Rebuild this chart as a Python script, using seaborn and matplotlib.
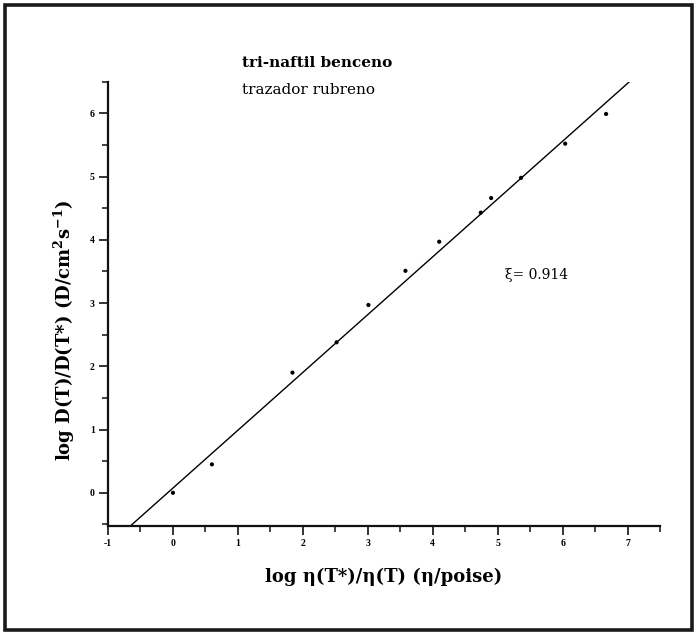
import numpy as np
import pandas as pd
import matplotlib
matplotlib.use("Agg")
import matplotlib.pyplot as plt
import seaborn as sns
from matplotlib.patches import Rectangle
from matplotlib.ticker import MultipleLocator, FixedLocator

# Measured points: log viscosity ratio vs log diffusion ratio
log_eta_ratio = [0.00, 0.60, 1.84, 2.52, 3.01, 3.58, 4.10, 4.74, 4.90, 5.36, 6.04, 6.67]
log_d_ratio = [0.00, 0.45, 1.90, 2.38, 2.97, 3.51, 3.97, 4.43, 4.66, 4.98, 5.52, 5.99]

# Fractional Stokes-Einstein exponent (slope of the fitted line) and intercept
xi = 0.914
intercept = 0.075

x_ticks = [-1, 0, 1, 2, 3, 4, 5, 6, 7]
y_ticks = [0, 1, 2, 3, 4, 5, 6]

sns.set_theme(style="ticks")
plt.rcParams["font.family"] = ["Liberation Serif", "DejaVu Serif"]
plt.rcParams["mathtext.fontset"] = "custom"
plt.rcParams["mathtext.rm"] = "DejaVu Serif"
plt.rcParams["mathtext.bf"] = "DejaVu Serif:bold"
plt.rcParams["axes.unicode_minus"] = False
plt.rcParams["text.color"] = "black"
plt.rcParams["axes.labelcolor"] = "black"
plt.rcParams["xtick.labelcolor"] = "black"
plt.rcParams["ytick.labelcolor"] = "black"

label_font = ["DejaVu Serif"]

W, H = 697, 634
fig = plt.figure(figsize=(W / 100, H / 100), dpi=100)
fig.patch.set_facecolor("white")

left, right, top, bottom = 108, 660, 81.7, 525.7
ax = fig.add_axes([left / W, (H - bottom) / H, (right - left) / W, (bottom - top) / H])
ax.set_facecolor("white")

df = pd.DataFrame({"x": log_eta_ratio, "y": log_d_ratio})
sns.scatterplot(data=df, x="x", y="y", ax=ax, color="black", s=9,
                edgecolor="none", zorder=3)

x_lim = (-1, 7.5)
y_lim = (-0.52, 6.5)
fit_x = np.array(x_lim)
sns.lineplot(x=fit_x, y=xi * fit_x + intercept, ax=ax, color="black",
             linewidth=1.0, zorder=2)

ax.set_xlim(*x_lim)
ax.set_ylim(*y_lim)
ax.xaxis.set_major_locator(FixedLocator(x_ticks))
ax.yaxis.set_major_locator(FixedLocator(y_ticks))
ax.xaxis.set_minor_locator(MultipleLocator(0.5))
ax.yaxis.set_minor_locator(MultipleLocator(0.5))

for side in ("top", "right"):
    ax.spines[side].set_visible(False)
for side in ("left", "bottom"):
    ax.spines[side].set_linewidth(1.6)
    ax.spines[side].set_color("#111111")

ax.tick_params(which="major", direction="out", length=6.5, width=1.2,
               labelsize=7, color="#111111", pad=3)
ax.tick_params(which="minor", direction="out", length=4, width=1.1,
               color="#111111")
for lab in ax.get_xticklabels() + ax.get_yticklabels():
    lab.set_fontweight("bold")

ax.set_xlabel("log η(T*)/η(T) (η/poise)", fontsize=13, fontweight="bold",
              family=label_font)
ax.set_ylabel(r"log D(T)/D(T*) (D/cm$^{\mathbf{2}}$s$^{\mathbf{-1}}$)",
              fontsize=13, fontweight="bold", family=label_font)
ax.xaxis.set_label_coords(0.5, -0.095)
ax.yaxis.set_label_coords(-0.057, 0.44)

fig.text(241.7 / W, 1 - 63 / H, "tri-naftil benceno", fontsize=11,
         fontweight="bold", ha="left", va="center", family=label_font)
fig.text(241.7 / W, 1 - 90 / H, "trazador rubreno", fontsize=11,
         ha="left", va="center", family=label_font)
fig.text(505 / W, 1 - 275 / H, "ξ= 0.914", fontsize=10,
         ha="left", va="center", family=label_font)

fig.patches.append(Rectangle((4.5 / W, 4.5 / H), (W - 10) / W, (H - 9) / H,
                             transform=fig.transFigure, fill=False,
                             linewidth=2.6, edgecolor="#1a1a1a"))

fig.savefig("out.png", dpi=100, facecolor="white")
